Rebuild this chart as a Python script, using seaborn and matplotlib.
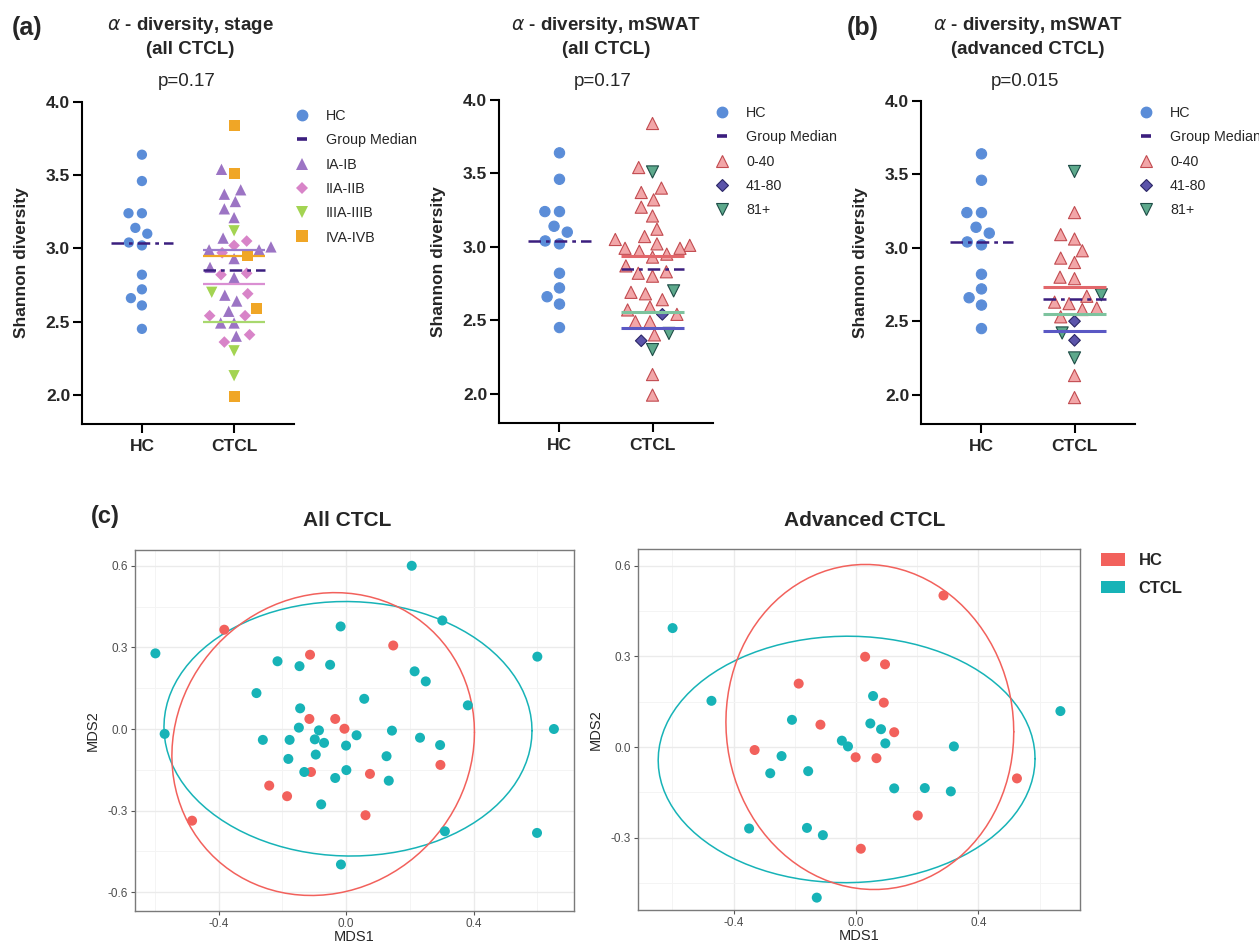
import numpy as np
import pandas as pd
import matplotlib
matplotlib.use('Agg')
import matplotlib.pyplot as plt
import seaborn as sns
from matplotlib.lines import Line2D
from matplotlib.patches import Patch
from matplotlib.markers import MarkerStyle
from matplotlib.transforms import Affine2D
from matplotlib.ticker import MultipleLocator, FormatStrFormatter

# --- alpha diversity (Shannon index) ---
hc_div = [3.64, 3.46, 3.24, 3.24, 3.10, 3.14, 3.02, 3.04, 2.82, 2.72, 2.66, 2.61, 2.45]

ctcl_div = [3.84, 3.51, 2.95, 2.59, 1.99,
            3.12, 2.70, 2.30, 2.13,
            3.05, 3.02, 2.97, 2.83, 2.82, 2.69, 2.54, 2.54, 2.41, 2.36,
            3.54, 3.40, 3.37, 3.32, 3.27, 3.21, 3.07, 3.01, 2.99, 2.99,
            2.93, 2.87, 2.80, 2.68, 2.64, 2.57, 2.49, 2.49, 2.40]
ctcl_stage = ['IVA-IVB'] * 5 + ['IIIA-IIIB'] * 4 + ['IIA-IIB'] * 10 + ['IA-IB'] * 19
ctcl_mswat = ['0-40', '81+', '0-40', '0-40', '0-40',
              '0-40', '81+', '81+', '0-40',
              '0-40', '0-40', '0-40', '0-40', '0-40', '0-40', '41-80', '0-40', '81+', '41-80'] + ['0-40'] * 19

adv_div = [3.24, 3.09, 3.06, 2.98, 2.93, 2.90, 2.80, 2.79, 2.67, 2.63, 2.62, 2.59,
           2.58, 2.53, 2.13, 1.98, 3.52, 2.68, 2.42, 2.25, 2.50, 2.37]
adv_mswat = ['0-40'] * 16 + ['81+'] * 4 + ['41-80'] * 2

# --- NMDS ordination ---
all_hc_x = [-0.382, -0.113, 0.148, -0.115, -0.034, -0.005, -0.110, 0.075, 0.296, -0.241, -0.185, 0.061, -0.483]
all_hc_y = [0.365, 0.273, 0.307, 0.037, 0.037, 0.001, -0.158, -0.165, -0.132, -0.208, -0.247, -0.317, -0.337]
all_ctcl_x = [0.206, 0.302, -0.017, -0.598, 0.600, -0.215, -0.146, -0.050, 0.215, 0.250,
              -0.281, 0.057, 0.382, -0.144, -0.148, -0.085, 0.652, 0.144, -0.569, 0.033,
              -0.261, -0.177, -0.098, -0.069, 0.000, 0.232, 0.295, -0.095, -0.181, 0.127,
              -0.131, 0.001, -0.034, 0.134, -0.078, 0.310, 0.599, -0.016]
all_ctcl_y = [0.600, 0.399, 0.377, 0.278, 0.266, 0.249, 0.231, 0.236, 0.212, 0.175,
              0.132, 0.111, 0.087, 0.076, 0.005, -0.005, 0.000, -0.006, -0.018, -0.023,
              -0.040, -0.040, -0.038, -0.051, -0.061, -0.032, -0.059, -0.094, -0.110, -0.100,
              -0.158, -0.151, -0.180, -0.190, -0.277, -0.376, -0.382, -0.498]

adv_hc_x = [0.286, 0.030, 0.095, -0.187, 0.091, -0.116, 0.125, -0.331, -0.001, 0.067, 0.526, 0.202, 0.016]
adv_hc_y = [0.502, 0.299, 0.274, 0.210, 0.147, 0.074, 0.049, -0.010, -0.034, -0.037, -0.104, -0.227, -0.337]
adv_ctcl_x = [-0.599, -0.472, 0.056, 0.668, -0.209, 0.047, 0.082, -0.046, -0.026, 0.096, 0.320,
              -0.243, -0.280, -0.156, 0.125, 0.225, 0.310, -0.349, -0.160, -0.108, -0.128]
adv_ctcl_y = [0.394, 0.153, 0.169, 0.119, 0.090, 0.078, 0.059, 0.021, 0.002, 0.012, 0.002,
              -0.030, -0.087, -0.080, -0.137, -0.136, -0.147, -0.270, -0.268, -0.292, -0.499]

# colours / markers
HC_BLUE = '#5B8DD8'
MED = '#3B1E7E'
stage_colors = {'HC': HC_BLUE, 'IA-IB': '#9C74C4', 'IIA-IIB': '#D884C8',
                'IIIA-IIIB': '#A3D452', 'IVA-IVB': '#F0A626'}
stage_markers = {'HC': ('o', 1.0), 'IA-IB': ('^', 1.1), 'IIA-IIB': ('D', 0.8),
                 'IIIA-IIIB': ('v', 1.1), 'IVA-IVB': ('s', 1.08)}
stage_lines = {'IA-IB': '#9C7CCB', 'IIA-IIB': '#DA8FD2', 'IIIA-IIIB': '#A8D86E', 'IVA-IVB': '#F0A626'}

mswat_colors = {'HC': HC_BLUE, '0-40': '#F2A6A8', '41-80': '#5B54AA', '81+': '#5DA98C'}
mswat_edges = {'HC': HC_BLUE, '0-40': '#C24B50', '41-80': '#2B2666', '81+': '#1E4D47'}
mswat_markers = {'HC': ('o', 1.0), '0-40': ('^', 1.18), '41-80': ('D', 0.8), '81+': ('v', 1.18)}
mswat_lines = {'0-40': '#E2676B', '41-80': '#5A58C4', '81+': '#7DC39E'}

nmds_colors = {'HC': '#F2615C', 'CTCL': '#17B3B7'}

SWARM_SIZE = 9.2     # spacing used for the swarm layout
MARK_SIZE = 7.4      # drawn marker size

sns.set_style('ticks')
plt.rcParams['font.family'] = ['Liberation Sans', 'DejaVu Sans']
plt.rcParams['axes.unicode_minus'] = False

W, H = 1259, 944
fig = plt.figure(figsize=(W / 100, H / 100), dpi=100)


def box(x0, y0, x1, y1):
    # pixel box -> figure fraction rect
    return [x0 / W, 1 - y1 / H, (x1 - x0) / W, (y1 - y0) / H]


def ftext(x, y, s, **kw):
    fig.text(x / W, 1 - y / H, s, **kw)


def marker_path(m, k):
    ms = MarkerStyle(m)
    return ms.get_path().transformed(ms.get_transform() + Affine2D().scale(k))


def diversity_panel(ax, values, groups, colors, markers, edges, edge_w, line_cols, line_w):
    n_hc = len(hc_div)
    df = pd.DataFrame({'cohort': ['HC'] * n_hc + ['CTCL'] * len(values),
                       'shannon': hc_div + values,
                       'sub': ['HC'] * n_hc + groups})
    sns.swarmplot(data=df, x='cohort', y='shannon', hue='sub', order=['HC', 'CTCL'],
                  palette=colors, size=SWARM_SIZE, legend=False, warn_thresh=1, ax=ax)
    # one collection per cohort; give each point its own marker shape
    shrink = MARK_SIZE / SWARM_SIZE
    for coll, cohort in zip(ax.collections, ['HC', 'CTCL']):
        sub = df.loc[df['cohort'] == cohort, 'sub'].tolist()
        coll.set_paths([marker_path(markers[s][0], markers[s][1] * shrink) for s in sub])
        coll.set_edgecolors([edges[s] for s in sub])
        coll.set_linewidth(edge_w)

    sub_med = df[df['cohort'] == 'CTCL'].groupby('sub')['shannon'].median()
    for s, col in line_cols.items():
        ax.hlines(sub_med[s], 0.66, 1.34, color=col, lw=line_w, zorder=3)
    for i, cohort in enumerate(['HC', 'CTCL']):
        m = df.loc[df['cohort'] == cohort, 'shannon'].median()
        ax.hlines(m, i - 0.34, i + 0.34, color=MED, lw=1.8,
                  linestyles=(0, (5, 2, 1.5, 2)), zorder=4)

    ax.set_xlim(-0.65, 1.65)
    ax.set_ylim(1.8, 4.0)
    ticks = [2.0, 2.5, 3.0, 3.5, 4.0]
    ax.set_yticks(ticks)
    ax.set_yticklabels([f'{t:.1f}' for t in ticks], fontweight='bold', fontsize=12.5)
    ax.set_xticks([0, 1])
    ax.set_xticklabels(['HC', 'CTCL'], fontweight='bold', fontsize=12.5)
    sns.despine(ax=ax)
    for sp in ['left', 'bottom']:
        ax.spines[sp].set_linewidth(1.5)
        ax.spines[sp].set_color('black')
    ax.tick_params(length=6.5, width=1.5, color='black', pad=2)
    ax.tick_params(axis='x', pad=4)
    ax.set_xlabel('')
    ax.set_ylabel('Shannon diversity', fontsize=12.5, fontweight='bold', labelpad=12)


def div_legend(x, y, labels, colors, markers, edges, edge_w):
    hs = [Line2D([], [], ls='', marker='o', ms=7.5, mfc=HC_BLUE, mec=HC_BLUE),
          Line2D([], [], ls='', marker='_', ms=7, mew=2.6, color=MED)]
    for lab in labels:
        m, k = markers[lab]
        hs.append(Line2D([], [], ls='', marker=m, ms=7.5 * k, mfc=colors[lab],
                         mec=edges[lab], mew=edge_w))
    fig.legend(hs, ['HC', 'Group Median'] + labels, loc='upper left',
               bbox_to_anchor=(x / W, 1 - y / H), frameon=False, borderpad=0,
               borderaxespad=0, handlelength=1.0, handletextpad=1.17,
               labelspacing=0.72, fontsize=10.3)


def t_ellipse(xy, level=0.95, nu=5, segments=101):
    # robust t-covariance ellipse (as ggplot2 stat_ellipse)
    n, p = xy.shape
    loc = xy.mean(axis=0)
    w = np.ones(n)
    for _ in range(25):
        w0 = w
        X = xy - loc
        _, d, vt = np.linalg.svd(np.sqrt(w / w.sum())[:, None] * X, full_matrices=False)
        Q = ((X @ vt.T / d) ** 2).sum(axis=1)
        w = (nu + p) / (nu + Q)
        loc = (w[:, None] * xy).sum(axis=0) / w.sum()
        if np.all(np.abs(w - w0) < 0.01):
            break
    Xw = np.sqrt(w)[:, None] * X
    cov = Xw.T @ Xw / n
    dfd = n - 1
    fq = dfd / 2 * ((1 - level) ** (-2 / dfd) - 1)
    radius = np.sqrt(2 * fq)
    ang = np.linspace(0, 2 * np.pi, segments)
    circle = np.column_stack([np.cos(ang), np.sin(ang)])
    return loc + radius * circle @ np.linalg.cholesky(cov).T


def nmds_panel(ax, hc_x, hc_y, ct_x, ct_y, xlim, ylim, yticks):
    df = pd.DataFrame({'MDS1': hc_x + ct_x, 'MDS2': hc_y + ct_y,
                       'group': ['HC'] * len(hc_x) + ['CTCL'] * len(ct_x)})
    sns.scatterplot(data=df, x='MDS1', y='MDS2', hue='group', palette=nmds_colors,
                    s=52, linewidth=0, legend=False, ax=ax, zorder=3)
    for g, sub in df.groupby('group'):
        ell = t_ellipse(sub[['MDS1', 'MDS2']].to_numpy())
        ax.plot(ell[:, 0], ell[:, 1], color=nmds_colors[g], lw=1.1, zorder=2)
    ax.set_xlim(*xlim)
    ax.set_ylim(*ylim)
    ax.set_xticks([-0.4, 0.0, 0.4])
    ax.set_yticks(yticks)
    ax.xaxis.set_minor_locator(MultipleLocator(0.2))
    ax.yaxis.set_minor_locator(MultipleLocator(0.15))
    ax.xaxis.set_major_formatter(FormatStrFormatter('%.1f'))
    ax.yaxis.set_major_formatter(FormatStrFormatter('%.1f'))
    ax.grid(which='major', color='#EBEBEB', lw=1.0)
    ax.grid(which='minor', color='#F4F4F4', lw=0.7)
    ax.set_axisbelow(True)
    ax.tick_params(which='minor', length=0)
    ax.tick_params(which='major', length=3, width=0.8, color='#555555',
                   labelsize=8.5, labelcolor='#4D4D4D', pad=2)
    for sp in ax.spines.values():
        sp.set_visible(True)
        sp.set_color('#7A7A7A')
        sp.set_linewidth(1.0)
    ax.set_xlabel('MDS1', fontsize=10.5, labelpad=0)
    ax.set_ylabel('MDS2', fontsize=10.5, labelpad=6)


# --- top row: alpha diversity ---
ax_a = fig.add_axes(box(82, 102, 294, 424))
diversity_panel(ax_a, ctcl_div, ctcl_stage, stage_colors, stage_markers, stage_colors, 0,
                stage_lines, 1.6)
div_legend(295, 109, ['IA-IB', 'IIA-IIB', 'IIIA-IIIB', 'IVA-IVB'],
           stage_colors, stage_markers, stage_colors, 0)

ax_m = fig.add_axes(box(499, 100, 713, 423))
diversity_panel(ax_m, ctcl_div, ctcl_mswat, mswat_colors, mswat_markers, mswat_edges, 0.8,
                mswat_lines, 2.2)
div_legend(715, 106, ['0-40', '41-80', '81+'], mswat_colors, mswat_markers, mswat_edges, 0.8)

ax_b = fig.add_axes(box(921, 101, 1135, 424))
diversity_panel(ax_b, adv_div, adv_mswat, mswat_colors, mswat_markers, mswat_edges, 0.8,
                mswat_lines, 2.2)
div_legend(1139, 106, ['0-40', '41-80', '81+'], mswat_colors, mswat_markers, mswat_edges, 0.8)

for cx, l1, l2, p in [(190, 'stage', '(all CTCL)', 'p=0.17'),
                      (606, 'mSWAT', '(all CTCL)', 'p=0.17'),
                      (1028, 'mSWAT', '(advanced CTCL)', 'p=0.015')]:
    ftext(cx, 26, r'$\alpha$ - diversity, ' + l1, ha='center', va='center',
          fontsize=13.5, fontweight='bold')
    ftext(cx, 50, l2, ha='center', va='center', fontsize=13.5, fontweight='bold')
    ftext(cx - 3, 82, p, ha='center', va='center', fontsize=13.5)

# --- bottom row: NMDS ---
ax_c1 = fig.add_axes(box(135, 550, 574, 911))
nmds_panel(ax_c1, all_hc_x, all_hc_y, all_ctcl_x, all_ctcl_y,
           (-0.662, 0.715), (-0.669, 0.658), [-0.6, -0.3, 0.0, 0.3, 0.6])
ax_c2 = fig.add_axes(box(638, 549, 1080, 910))
nmds_panel(ax_c2, adv_hc_x, adv_hc_y, adv_ctcl_x, adv_ctcl_y,
           (-0.712, 0.732), (-0.54, 0.656), [-0.3, 0.0, 0.3, 0.6])

ftext(347, 521, 'All CTCL', ha='center', va='center', fontsize=15, fontweight='bold')
ftext(865, 521, 'Advanced CTCL', ha='center', va='center', fontsize=15, fontweight='bold')

fig.legend([Patch(fc=nmds_colors['HC'], ec='none'), Patch(fc=nmds_colors['CTCL'], ec='none')],
           ['HC', 'CTCL'], loc='upper left', bbox_to_anchor=(1101 / W, 1 - 553 / H),
           frameon=False, borderpad=0, borderaxespad=0, handlelength=1.45, handleheight=0.8,
           handletextpad=0.8, labelspacing=0.75, prop={'weight': 'bold', 'size': 12})

ftext(12, 28, '(a)', ha='left', va='center', fontsize=18, fontweight='bold')
ftext(847, 28, '(b)', ha='left', va='center', fontsize=18, fontweight='bold')
ftext(91, 517, '(c)', ha='left', va='center', fontsize=17, fontweight='bold')

fig.savefig('out.png', dpi=100)
